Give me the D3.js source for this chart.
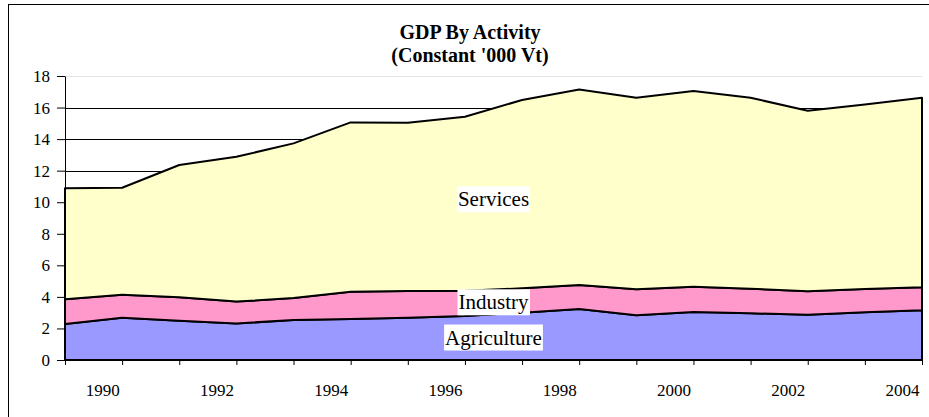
<!DOCTYPE html>
<html>
<head>
<meta charset="utf-8">
<script src="https://cdnjs.cloudflare.com/ajax/libs/d3/7.8.5/d3.min.js"></script>
<style>
  body { margin: 0; background: #fff; }
  svg { display: block; }
  .axis path, .axis line { stroke: #000; }
</style>
</head>
<body>
<svg width="929" height="417"></svg>
<script>
// values
var years = [1990, 1991, 1992, 1993, 1994, 1995, 1996, 1997, 1998, 1999, 2000, 2001, 2002, 2003, 2004, 2005];
var agriculture = [2.28, 2.68, 2.49, 2.32, 2.53, 2.60, 2.68, 2.79, 3.00, 3.23, 2.83, 3.04, 2.96, 2.87, 3.02, 3.15];
var industry = [1.57, 1.46, 1.48, 1.38, 1.40, 1.73, 1.69, 1.60, 1.54, 1.52, 1.65, 1.61, 1.56, 1.48, 1.48, 1.46];
var services = [7.03, 6.78, 8.39, 9.18, 9.80, 10.73, 10.67, 11.03, 11.94, 12.40, 12.14, 12.40, 12.10, 11.45, 11.70, 12.01];
var keys = ["Agriculture", "Industry", "Services"];
var colors = ["#9999ff", "#ff99cc", "#ffffcc"];
var yTicks = [0, 2, 4, 6, 8, 10, 12, 14, 16, 18];

var serif = "Liberation Serif, Times New Roman, DejaVu Serif, serif";

var svg = d3.select("svg").attr("font-family", serif),
    margin = {top: 76, right: 7, bottom: 57, left: 65},
    width = +svg.attr("width") - margin.left - margin.right,
    height = +svg.attr("height") - margin.top - margin.bottom;

// chart frame
svg.append("rect")
    .attr("x", 8.5).attr("y", 4.5)
    .attr("width", 940).attr("height", 430)
    .attr("fill", "#fff").attr("stroke", "#000").attr("stroke-width", 1);

svg.append("text")
    .attr("x", 470).attr("y", 39)
    .attr("text-anchor", "middle")
    .attr("font-size", 20).attr("font-weight", "bold")
    .text("GDP By Activity");
svg.append("text")
    .attr("x", 470).attr("y", 62)
    .attr("text-anchor", "middle")
    .attr("font-size", 20).attr("font-weight", "bold")
    .text("(Constant '000 Vt)");

var g = svg.append("g").attr("transform", "translate(" + margin.left + "," + margin.top + ")");

var x = d3.scaleLinear().domain([years[0], years[years.length - 1]]).range([0, width]);
var y = d3.scaleLinear().domain([0, 18]).range([height, 0]);
var z = d3.scaleOrdinal().domain(keys).range(colors);

var data = years.map(function(yr, i) {
  return {year: yr, Agriculture: agriculture[i], Industry: industry[i], Services: services[i]};
});
var series = d3.stack().keys(keys)(data);

// gridlines
g.append("g")
  .selectAll("line")
  .data(yTicks.slice(1))
  .enter().append("line")
    .attr("x1", 0).attr("x2", width)
    .attr("y1", function(d) { return Math.round(y(d)) + 0.5; })
    .attr("y2", function(d) { return Math.round(y(d)) + 0.5; })
    .attr("stroke", function(d) { return d === 18 ? "#e4e4e4" : "#000"; })
    .attr("stroke-width", 1);

var area = d3.area()
    .x(function(d) { return x(d.data.year); })
    .y0(function(d) { return y(d[0]); })
    .y1(function(d) { return y(d[1]); });

g.append("g")
  .selectAll("path")
  .data(series)
  .enter().append("path")
    .attr("d", area)
    .attr("fill", function(d) { return z(d.key); })
    .attr("stroke", "#000")
    .attr("stroke-width", 2)
    .attr("stroke-linejoin", "round");

// axes
var yAxis = g.append("g")
    .attr("class", "axis")
    .call(d3.axisLeft(y).tickValues(yTicks).tickSize(8).tickPadding(7).tickSizeOuter(0));

var xAxis = g.append("g")
    .attr("class", "axis")
    .attr("transform", "translate(0," + height + ")")
    .call(d3.axisBottom(x).tickValues(years).tickSize(5).tickSizeOuter(0)
      .tickFormat(function(d, i) { return i % 2 === 0 ? d : ""; }));
xAxis.selectAll("text")
    .attr("y", 36).attr("dy", 0)
    .attr("dx", x(years[0] + 0.65) - x(years[0]));

g.selectAll(".axis")
    .attr("font-family", serif)
    .attr("font-size", 17);
g.selectAll(".axis text").attr("fill", "#000");

// series labels in the middle of each band
var mid = Math.floor(years.length / 2) - 1;
var labels = g.append("g")
  .selectAll("g")
  .data(series)
  .enter().append("g")
    .attr("transform", function(s) {
      var v = ((s[mid][0] + s[mid][1]) / 2 + (s[mid + 1][0] + s[mid + 1][1]) / 2) / 2;
      return "translate(" + (x(years[mid]) + x(years[mid + 1])) / 2 + "," + y(v) + ")";
    });
labels.append("rect").attr("fill", "#fff");
labels.append("text")
    .attr("text-anchor", "middle")
    .attr("dy", "0.35em")
    .attr("font-size", 21)
    .text(function(s) { return s.key; });
labels.each(function() {
  var node = d3.select(this);
  var b = node.select("text").node().getBBox();
  node.select("rect")
      .attr("x", b.x - 1).attr("y", b.y - 1)
      .attr("width", b.width + 2).attr("height", b.height + 2);
});
</script>
</body>
</html>
